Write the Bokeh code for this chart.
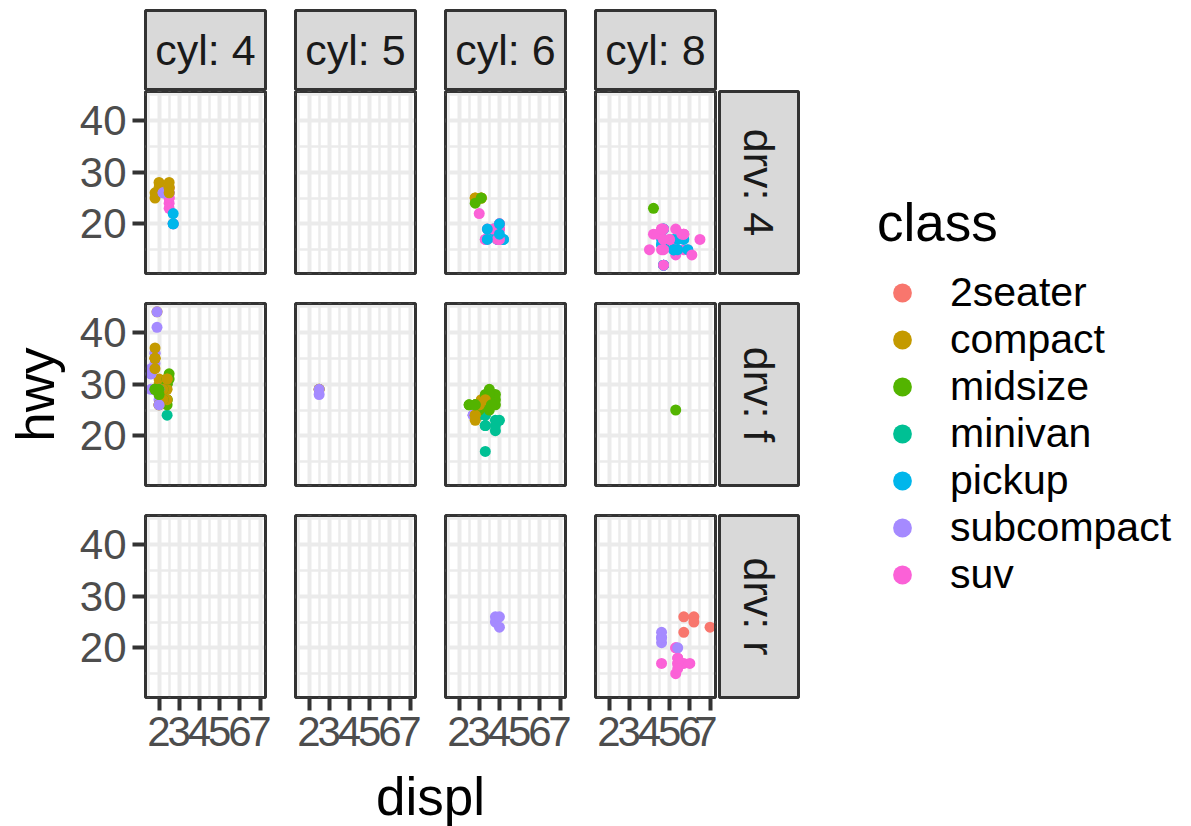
import math

from bokeh.core.properties import value
from bokeh.embed import file_html
from bokeh.layouts import column, row
from bokeh.models import (BoxAnnotation, ColumnDataSource, FixedTicker, Legend, LegendItem,
                          Range1d, Spacer)
from bokeh.plotting import figure
from bokeh.resources import INLINE

# ---------------------------------------------------------------- data (mpg)
displ = [
    1.8, 1.8, 2.0, 2.0, 2.8, 2.8, 3.1, 1.8, 1.8, 2.0,
    2.0, 2.8, 2.8, 3.1, 3.1, 2.8, 3.1, 4.2, 5.3, 5.3,
    5.3, 5.7, 6.0, 5.7, 5.7, 6.2, 6.2, 7.0, 5.3, 5.3,
    5.7, 6.5, 2.4, 2.4, 3.1, 3.5, 3.6, 2.4, 3.0, 3.3,
    3.3, 3.3, 3.3, 3.3, 3.8, 3.8, 3.8, 4.0, 3.7, 3.7,
    3.9, 3.9, 4.7, 4.7, 4.7, 5.2, 5.2, 3.9, 4.7, 4.7,
    4.7, 5.2, 5.7, 5.9, 4.7, 4.7, 4.7, 4.7, 4.7, 4.7,
    5.2, 5.2, 5.7, 5.9, 4.6, 5.4, 5.4, 4.0, 4.0, 4.0,
    4.0, 4.6, 5.0, 4.2, 4.2, 4.6, 4.6, 4.6, 5.4, 5.4,
    3.8, 3.8, 4.0, 4.0, 4.6, 4.6, 4.6, 4.6, 5.4, 1.6,
    1.6, 1.6, 1.6, 1.6, 1.8, 1.8, 1.8, 2.0, 2.4, 2.4,
    2.4, 2.4, 2.5, 2.5, 3.3, 2.0, 2.0, 2.0, 2.0, 2.7,
    2.7, 2.7, 3.0, 3.7, 4.0, 4.7, 4.7, 4.7, 5.7, 6.1,
    4.0, 4.2, 4.4, 4.6, 5.4, 5.4, 5.4, 4.0, 4.0, 4.6,
    5.0, 2.4, 2.4, 2.5, 2.5, 3.5, 3.5, 3.0, 3.0, 3.5,
    3.3, 3.3, 4.0, 5.6, 3.1, 3.8, 3.8, 3.8, 5.3, 2.5,
    2.5, 2.5, 2.5, 2.5, 2.5, 2.2, 2.2, 2.5, 2.5, 2.5,
    2.5, 2.5, 2.5, 2.7, 2.7, 3.4, 3.4, 4.0, 4.7, 2.2,
    2.2, 2.4, 2.4, 3.0, 3.0, 3.5, 2.2, 2.2, 2.4, 2.4,
    3.0, 3.0, 3.3, 1.8, 1.8, 1.8, 1.8, 1.8, 4.7, 5.7,
    2.7, 2.7, 2.7, 3.4, 3.4, 4.0, 4.0, 2.0, 2.0, 2.0,
    2.0, 2.8, 1.9, 2.0, 2.0, 2.0, 2.0, 2.5, 2.5, 2.8,
    2.8, 1.9, 1.9, 2.0, 2.0, 2.5, 2.5, 1.8, 1.8, 2.0,
    2.0, 2.8, 2.8, 3.6,
]

hwy = [
    29, 29, 31, 30, 26, 26, 27, 26, 25, 28,
    27, 25, 25, 25, 25, 24, 25, 23, 20, 15,
    20, 17, 17, 26, 23, 26, 25, 24, 19, 14,
    15, 17, 27, 30, 26, 29, 26, 24, 24, 22,
    22, 24, 24, 17, 22, 21, 23, 23, 19, 18,
    17, 17, 19, 19, 12, 17, 15, 17, 17, 12,
    17, 16, 18, 15, 16, 12, 17, 17, 16, 12,
    15, 15, 17, 15, 17, 17, 18, 17, 19, 17,
    19, 19, 17, 17, 17, 16, 16, 17, 15, 17,
    26, 25, 26, 24, 21, 22, 23, 22, 20, 33,
    32, 32, 29, 32, 34, 36, 36, 29, 26, 27,
    30, 31, 26, 26, 28, 26, 29, 28, 27, 24,
    24, 24, 22, 19, 20, 17, 12, 19, 18, 14,
    15, 18, 18, 15, 17, 16, 18, 17, 19, 19,
    17, 29, 27, 31, 32, 27, 26, 26, 25, 25,
    17, 17, 20, 18, 26, 26, 27, 28, 25, 25,
    24, 27, 25, 26, 23, 26, 26, 26, 26, 27,
    27, 26, 28, 20, 20, 19, 17, 20, 17, 29,
    27, 31, 31, 26, 26, 28, 27, 29, 31, 31,
    26, 26, 27, 33, 35, 35, 37, 35, 15, 18,
    20, 20, 22, 17, 19, 18, 20, 29, 26, 29,
    29, 24, 44, 29, 26, 29, 29, 29, 29, 23,
    24, 44, 41, 29, 26, 28, 29, 29, 29, 28,
    29, 26, 26, 26,
]

cyl = [
    4, 4, 4, 4, 6, 6, 6, 4, 4, 4,
    4, 6, 6, 6, 6, 6, 6, 8, 8, 8,
    8, 8, 8, 8, 8, 8, 8, 8, 8, 8,
    8, 8, 4, 4, 6, 6, 6, 4, 6, 6,
    6, 6, 6, 6, 6, 6, 6, 6, 6, 6,
    6, 6, 8, 8, 8, 8, 8, 6, 8, 8,
    8, 8, 8, 8, 8, 8, 8, 8, 8, 8,
    8, 8, 8, 8, 8, 8, 8, 6, 6, 6,
    6, 8, 8, 6, 6, 8, 8, 8, 8, 8,
    6, 6, 6, 6, 8, 8, 8, 8, 8, 4,
    4, 4, 4, 4, 4, 4, 4, 4, 4, 4,
    4, 4, 6, 6, 6, 4, 4, 4, 4, 6,
    6, 6, 6, 6, 6, 8, 8, 8, 8, 8,
    8, 8, 8, 8, 8, 8, 8, 6, 6, 8,
    8, 4, 4, 4, 4, 6, 6, 6, 6, 6,
    6, 6, 6, 8, 6, 6, 6, 6, 8, 4,
    4, 4, 4, 4, 4, 4, 4, 4, 4, 4,
    4, 4, 4, 4, 4, 6, 6, 6, 8, 4,
    4, 4, 4, 6, 6, 6, 4, 4, 4, 4,
    6, 6, 6, 4, 4, 4, 4, 4, 8, 8,
    4, 4, 4, 6, 6, 6, 6, 4, 4, 4,
    4, 6, 4, 4, 4, 4, 4, 5, 5, 6,
    6, 4, 4, 4, 4, 5, 5, 4, 4, 4,
    4, 6, 6, 6,
]

drv = (
    ["f"] * 7 + ["4"] * 11 + ["r"] * 10 + ["4"] * 4 + ["f"] * 16
    + ["4"] * 26 + ["r"] * 3 + ["4"] * 13 + ["r"] * 9 + ["f"] * 23
    + ["4"] * 12 + ["r"] * 3 + ["4"] * 4 + ["f"] * 9 + ["4"] * 4
    + ["f"] * 5 + ["4"] * 20 + ["f"] * 19 + ["4"] * 9 + ["f"] * 27
)

car_class = (
    ["compact"] * 15 + ["midsize"] * 3 + ["suv"] * 5 + ["2seater"] * 5
    + ["suv"] * 4 + ["midsize"] * 5 + ["minivan"] * 11 + ["pickup"] * 9
    + ["suv"] * 7 + ["pickup"] * 10 + ["suv"] * 9 + ["pickup"] * 7
    + ["subcompact"] * 18 + ["midsize"] * 7 + ["subcompact"] * 7
    + ["suv"] * 19 + ["compact"] * 2 + ["midsize"] * 7 + ["suv"] * 4
    + ["midsize"] * 5 + ["suv"] * 6 + ["subcompact"] * 4 + ["compact"] * 4
    + ["suv"] * 6 + ["midsize"] * 7 + ["compact"] * 12 + ["suv"] * 2
    + ["pickup"] * 7 + ["compact"] * 14 + ["subcompact"] * 6 + ["midsize"] * 7
)

class_levels = ["2seater", "compact", "midsize", "minivan", "pickup", "subcompact", "suv"]
class_colors = ["#F8766D", "#C49A00", "#53B400", "#00C094", "#00B6EB", "#A58AFF", "#FB61D7"]
cyl_levels = [4, 5, 6, 8]
drv_levels = ["4", "f", "r"]
x_breaks = [2, 3, 4, 5, 6, 7]
y_breaks = [20, 30, 40]

# ---------------------------------------------------------------- styling
FONT = "Liberation Sans"
GRID = "#EBEBEB"
DARK = "#333333"
STRIP_FILL = "#D9D9D9"
TICK_FONT = "42px"
STRIP_FONT = "43px"
TITLE_FONT = "53px"
LEGEND_FONT = "41px"
POINT_SIZE = 11

PANEL_W, PANEL_H = 120, 182
COL_LEFT = [145, 15, 15, 15]
COL_RIGHT = [15, 15, 15, 2]
ROW_TOP = [1, 15, 15]
ROW_BOTTOM = [15, 15, 68]
STRIP_W = 83
TOP_STRIP_H = 90
PAGE_W, PAGE_H = 1191, 826


def expand(lo, hi, mult=0.05):
    pad = (hi - lo) * mult
    return lo - pad, hi + pad


def minor_breaks(breaks, lo, hi):
    step = breaks[1] - breaks[0]
    cands = [breaks[0] - step / 2] + [b + step / 2 for b in breaks]
    return [m for m in cands if lo <= m <= hi]


x_lo, x_hi = expand(min(displ), max(displ))
y_lo, y_hi = expand(min(hwy), max(hwy))
x_minor = minor_breaks(x_breaks, x_lo, x_hi)
y_minor = minor_breaks(y_breaks, y_lo, y_hi)
color_of = dict(zip(class_levels, class_colors))


def blank_fig(width, height, left=0, right=0, top=0, bottom=0):
    p = figure(width=width, height=height, x_range=Range1d(0, 1), y_range=Range1d(0, 1),
               x_axis_type=None, y_axis_type=None, output_backend="svg",
               toolbar_location=None, min_border_left=left, min_border_right=right,
               min_border_top=top, min_border_bottom=bottom)
    p.outline_line_color = None
    p.background_fill_color = "white"
    p.border_fill_color = "white"
    return p


def strip(width, height, label, left, right, top, bottom, angle=0.0):
    p = blank_fig(width, height, left, right, top, bottom)
    p.background_fill_color = STRIP_FILL
    p.outline_line_color = DARK
    p.outline_line_width = 3
    p.text(x=[0.5], y=[0.5], text=[label], angle=angle, text_align="center",
           text_baseline="middle", text_font=value(FONT), text_font_size=STRIP_FONT,
           text_color="#1A1A1A")
    return p


def style_axis(ax, ticks):
    ax.ticker = FixedTicker(ticks=ticks)
    ax.axis_line_color = None
    ax.major_tick_line_color = DARK
    ax.major_tick_line_width = 4
    ax.major_tick_out = 13
    ax.major_tick_in = 0
    ax.minor_tick_line_color = None
    ax.major_label_text_font = FONT
    ax.major_label_text_font_size = TICK_FONT
    ax.major_label_text_color = "#4D4D4D"
    ax.major_label_standoff = 6


def panel(ci, ri):
    c, d = cyl_levels[ci], drv_levels[ri]
    idx = [i for i in range(len(displ)) if cyl[i] == c and drv[i] == d]
    src = ColumnDataSource(dict(
        x=[displ[i] for i in idx],
        y=[hwy[i] for i in idx],
        color=[color_of[car_class[i]] for i in idx],
    ))
    left, right, top, bottom = COL_LEFT[ci], COL_RIGHT[ci], ROW_TOP[ri], ROW_BOTTOM[ri]
    p = figure(width=left + PANEL_W + right, height=top + PANEL_H + bottom,
               x_range=Range1d(x_lo, x_hi), y_range=Range1d(y_lo, y_hi),
               output_backend="svg", toolbar_location=None,
               min_border_left=left, min_border_right=right,
               min_border_top=top, min_border_bottom=bottom)
    p.background_fill_color = "white"
    p.border_fill_color = "white"
    # outer half of the panel border
    p.outline_line_color = DARK
    p.outline_line_width = 3

    p.xgrid.ticker = FixedTicker(ticks=x_breaks, minor_ticks=x_minor)
    p.ygrid.ticker = FixedTicker(ticks=y_breaks, minor_ticks=y_minor)
    for g in (p.xgrid, p.ygrid):
        g.grid_line_color = GRID
        g.grid_line_width = 4
        g.minor_grid_line_color = GRID
        g.minor_grid_line_width = 2.5

    if ci == 0:
        ax = p.yaxis[0]
        style_axis(ax, y_breaks)
        if ri == 1:
            # the shared y title sits beside the middle row
            ax.axis_label = "hwy"
            ax.axis_label_standoff = 12
            ax.axis_label_text_font = FONT
            ax.axis_label_text_font_size = TITLE_FONT
            ax.axis_label_text_font_style = "normal"
            ax.axis_label_text_color = "black"
    else:
        p.yaxis.visible = False
    if ri == len(drv_levels) - 1:
        style_axis(p.xaxis[0], x_breaks)
    else:
        p.xaxis.visible = False

    p.scatter("x", "y", source=src, size=POINT_SIZE, fill_color="color", line_color=None)

    # inner half of the panel border, kept above the grid and the points
    p.add_layout(BoxAnnotation(fill_color=None, fill_alpha=0, line_color=DARK,
                               line_alpha=1.0, line_width=3, level="overlay"))
    return p


# ---------------------------------------------------------------- facet grid
top_strips = [
    strip(COL_LEFT[ci] + PANEL_W + COL_RIGHT[ci], TOP_STRIP_H, f"cyl: {c}",
          COL_LEFT[ci], COL_RIGHT[ci], 10, 1)
    for ci, c in enumerate(cyl_levels)
]
rows = [row(*top_strips, Spacer(width=STRIP_W, height=TOP_STRIP_H))]
for ri, d in enumerate(drv_levels):
    cells = [panel(ci, ri) for ci in range(len(cyl_levels))]
    cells.append(strip(STRIP_W, ROW_TOP[ri] + PANEL_H + ROW_BOTTOM[ri], f"drv: {d}",
                       2, 2, ROW_TOP[ri], ROW_BOTTOM[ri], angle=-math.pi / 2))
    rows.append(row(*cells))

grid_w = sum(COL_LEFT) + len(cyl_levels) * PANEL_W + sum(COL_RIGHT) + STRIP_W
grid_h = TOP_STRIP_H + sum(ROW_TOP) + len(drv_levels) * PANEL_H + sum(ROW_BOTTOM)
panels_span = sum(COL_LEFT) - COL_LEFT[0] + len(cyl_levels) * PANEL_W + sum(COL_RIGHT) - COL_RIGHT[-1]

# x axis title, centred under the panels
xtitle = blank_fig(grid_w, PAGE_H - grid_h, left=COL_LEFT[0],
                   right=grid_w - COL_LEFT[0] - panels_span)
xtitle.text(x=[0.5], y=[0.5], text=["displ"], text_align="center", text_baseline="middle",
            text_font=value(FONT), text_font_size=TITLE_FONT, text_color="black")
rows.append(xtitle)

# ---------------------------------------------------------------- legend
legend_w = PAGE_W - grid_w
lf = blank_fig(legend_w, PAGE_H, left=77, top=192)
items = []
for name, col in zip(class_levels, class_colors):
    members = [i for i in range(len(displ)) if car_class[i] == name]
    # the class's own points; they lie outside this figure's 0..1 view
    r = lf.scatter(x=[displ[i] for i in members], y=[hwy[i] for i in members],
                   size=POINT_SIZE, fill_color=col, line_color=None)
    items.append(LegendItem(label=name, renderers=[r]))
legend = Legend(items=items, location="top_left", margin=0, padding=0,
                border_line_color=None, background_fill_alpha=0,
                title="class", title_text_font=FONT, title_text_font_size=TITLE_FONT,
                title_text_font_style="normal", title_text_color="black", title_standoff=16,
                label_text_font=FONT, label_text_font_size=LEGEND_FONT, label_text_color="black",
                glyph_width=50, glyph_height=47, label_height=47, label_standoff=23, spacing=0)
lf.add_layout(legend)

page = row(column(*rows), lf)

with open("out.html", "w") as f:
    f.write(file_html(page, INLINE))
